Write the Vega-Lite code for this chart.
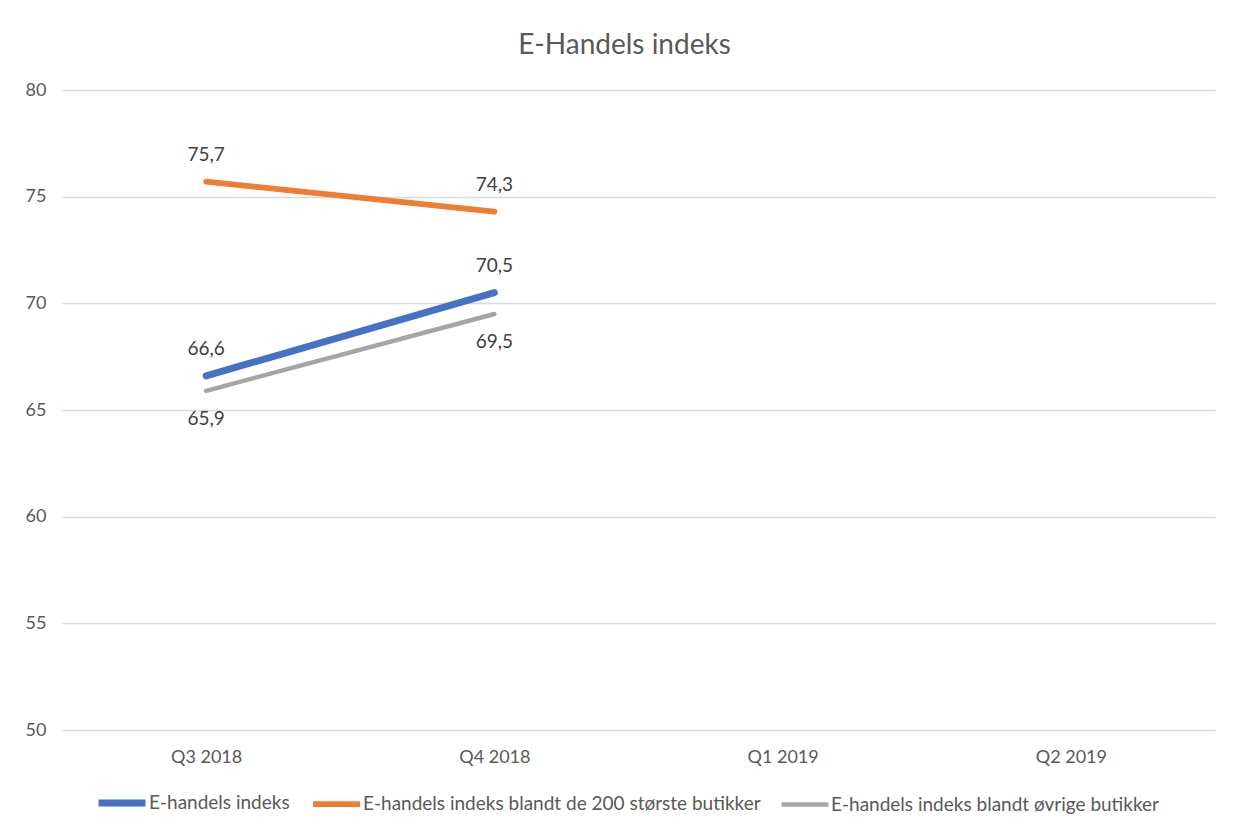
{
  "$schema": "https://vega.github.io/schema/vega-lite/v6.json",
  "width": 1153,
  "height": 640,
  "autosize": "none",
  "padding": {"left": 62, "top": 90, "right": 22, "bottom": 105},
  "background": "white",
  "config": {
    "font": "Lato",
    "view": {"stroke": null},
    "locale": {"number": {"decimal": ",", "thousands": ".", "grouping": [3], "currency": ["", " kr"]}}
  },
  "title": {"text": "E-Handels indeks", "anchor": "middle", "fontSize": 28, "fontWeight": "normal", "color": "#595959", "offset": 21, "dx": -14, "font": "Lato"},
  "data": {
    "values": [
      {"quarter": "Q3 2018", "series": "E-handels indeks", "value": 66.6},
      {"quarter": "Q4 2018", "series": "E-handels indeks", "value": 70.5},
      {"quarter": "Q3 2018", "series": "E-handels indeks blandt de 200 største butikker", "value": 75.7},
      {"quarter": "Q4 2018", "series": "E-handels indeks blandt de 200 største butikker", "value": 74.3},
      {"quarter": "Q3 2018", "series": "E-handels indeks blandt øvrige butikker", "value": 65.9},
      {"quarter": "Q4 2018", "series": "E-handels indeks blandt øvrige butikker", "value": 69.5}
    ]
  },
  "encoding": {
    "x": {
      "field": "quarter", "type": "ordinal",
      "scale": {"type": "point", "domain": ["Q3 2018", "Q4 2018", "Q1 2019", "Q2 2019"], "padding": 0.5},
      "axis": {"title": null, "labelAngle": 0, "domain": false, "ticks": false, "grid": false, "labelPadding": 18, "labelFontSize": 18, "labelColor": "#595959"}
    },
    "y": {
      "field": "value", "type": "quantitative",
      "scale": {"domain": [50, 80], "nice": false, "zero": false},
      "axis": {"title": null, "values": [50, 55, 60, 65, 70, 75, 80], "domain": false, "ticks": false, "gridColor": "#d9d9d9", "gridWidth": 1.5, "labelPadding": 16, "labelFontSize": 18, "labelColor": "#595959"}
    }
  },
  "layer": [
    {
      "mark": {"type": "line", "strokeCap": "round", "strokeJoin": "round"},
      "encoding": {
        "color": {
          "field": "series", "type": "nominal",
          "scale": {"domain": ["E-handels indeks", "E-handels indeks blandt de 200 største butikker", "E-handels indeks blandt øvrige butikker"], "range": ["#4472C4", "#ED7D31", "#A5A5A5"]},
          "legend": {"title": null, "orient": "none", "legendX": 33, "legendY": 686, "direction": "horizontal", "symbolType": "stroke", "symbolSize": 2200, "symbolStrokeWidth": 4.5, "labelFontSize": 19, "labelColor": "#595959", "labelOffset": 0, "columnPadding": 11, "labelLimit": 600}
        },
        "strokeWidth": {
          "field": "series", "type": "nominal",
          "scale": {"domain": ["E-handels indeks", "E-handels indeks blandt de 200 største butikker", "E-handels indeks blandt øvrige butikker"], "range": [7, 4.5, 4.5]},
          "legend": null
        }
      }
    },
    {
      "transform": [{"filter": "datum.series !== 'E-handels indeks blandt øvrige butikker'"}],
      "mark": {"type": "text", "dy": -27, "fontSize": 19, "color": "#404040", "baseline": "middle"},
      "encoding": {"text": {"field": "value", "type": "quantitative", "format": ".1f"}}
    },
    {
      "transform": [{"filter": "datum.series === 'E-handels indeks blandt øvrige butikker'"}],
      "mark": {"type": "text", "dy": 28, "fontSize": 19, "color": "#404040", "baseline": "middle"},
      "encoding": {"text": {"field": "value", "type": "quantitative", "format": ".1f"}}
    }
  ]
}
